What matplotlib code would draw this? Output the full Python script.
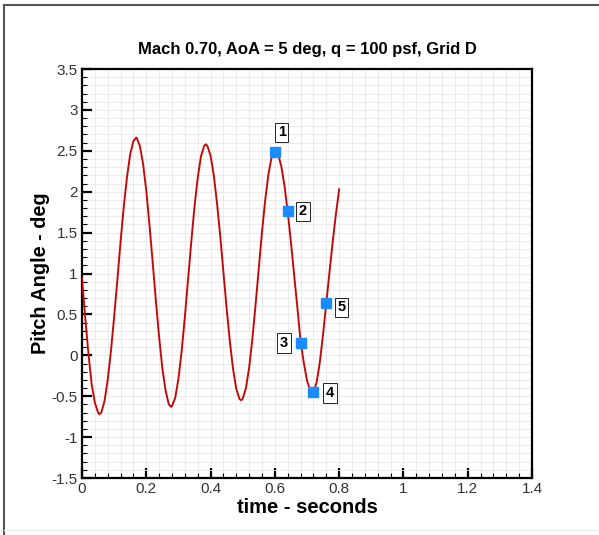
import numpy as np
import matplotlib.pyplot as plt
from matplotlib.ticker import MultipleLocator
from matplotlib.lines import Line2D

plt.rcParams['font.family'] = ['Liberation Sans', 'DejaVu Sans']

# pitch angle history
time = [0.00, 0.01, 0.02, 0.03, 0.04, 0.05, 0.054, 0.06, 0.07, 0.08, 0.09,
        0.10, 0.11, 0.12, 0.13, 0.14, 0.15, 0.16, 0.168, 0.17, 0.18, 0.19,
        0.20, 0.21, 0.22, 0.23, 0.24, 0.25, 0.26, 0.27, 0.277, 0.28, 0.29,
        0.30, 0.31, 0.32, 0.33, 0.34, 0.35, 0.36, 0.37, 0.38, 0.385, 0.39,
        0.40, 0.41, 0.42, 0.43, 0.44, 0.45, 0.46, 0.47, 0.48, 0.49, 0.495,
        0.50, 0.51, 0.52, 0.53, 0.54, 0.55, 0.56, 0.57, 0.58, 0.59, 0.60,
        0.61, 0.62, 0.63, 0.64, 0.65, 0.66, 0.67, 0.68, 0.69, 0.70, 0.71,
        0.716, 0.72, 0.73, 0.74, 0.75, 0.76, 0.77, 0.78, 0.79, 0.80]
pitch = [0.94, 0.46, 0.02, -0.35, -0.58, -0.70, -0.72, -0.70, -0.56, -0.30, 0.05,
         0.47, 0.92, 1.39, 1.82, 2.18, 2.46, 2.62, 2.66, 2.66, 2.56, 2.34,
         2.01, 1.59, 1.13, 0.66, 0.22, -0.16, -0.43, -0.60, -0.63, -0.62, -0.52,
         -0.285, 0.05, 0.47, 0.93, 1.39, 1.82, 2.17, 2.43, 2.56, 2.58, 2.56,
         2.44, 2.20, 1.86, 1.46, 1.015, 0.57, 0.17, -0.17, -0.41, -0.535, -0.55,
         -0.53, -0.40, -0.15, 0.20, 0.62, 1.065, 1.51, 1.90, 2.215, 2.425, 2.50,
         2.46, 2.31, 2.07, 1.75, 1.38, 0.98, 0.585, 0.17, -0.09, -0.31, -0.43,
         -0.46, -0.45, -0.33, -0.08, 0.26, 0.64, 1.02, 1.39, 1.73, 2.03]

# marked instants
mark_t = [0.60, 0.64, 0.68, 0.72, 0.76]
mark_y = [2.49, 1.76, 0.15, -0.445, 0.64]
mark_lbl = ['1', '2', '3', '4', '5']
lbl_off = [(5, 14), (11, 0), (-12, 0), (12, -1), (11, -3)]

x_ticks = [0, 0.2, 0.4, 0.6, 0.8, 1, 1.2, 1.4]
x_tick_lbl = ['0', '0.2', '0.4', '0.6', '0.8', '1', '1.2', '1.4']
y_ticks = [-1.5, -1, -0.5, 0, 0.5, 1, 1.5, 2, 2.5, 3, 3.5]
y_tick_lbl = ['-1.5', '-1', '-0.5', '0', '0.5', '1', '1.5', '2', '2.5', '3', '3.5']

fig = plt.figure(figsize=(5.99, 5.35), dpi=100)
ax = fig.add_axes([0.1369, 0.1065, 0.7513, 0.7645])

ax.plot(time, pitch, color='#d01010', lw=1.4, zorder=3)
ax.plot(time, pitch, color='#7a0000', lw=0.4, alpha=0.5, zorder=3)
ax.plot(mark_t, mark_y, 's', color='#1a8cff', ms=7.8, mec='#1a8cff', zorder=4)

for t, y, s, off in zip(mark_t, mark_y, mark_lbl, lbl_off):
    ax.annotate(s, (t, y), xytext=off, textcoords='offset points',
                ha='center', va='center', fontsize=10.5, fontweight='bold',
                bbox=dict(boxstyle='square,pad=0.18', fc='white', ec='#222222', lw=0.7),
                zorder=5)

ax.set_xlim(0, 1.4)
ax.set_ylim(-1.5, 3.5)
ax.set_xticks(x_ticks)
ax.set_xticklabels(x_tick_lbl)
ax.set_yticks(y_ticks)
ax.set_yticklabels(y_tick_lbl)
ax.xaxis.set_minor_locator(MultipleLocator(0.04))
ax.yaxis.set_minor_locator(MultipleLocator(0.1))
ax.grid(which='both', color='#e8e8e8', lw=0.6)
ax.set_axisbelow(True)
ax.tick_params(which='major', direction='in', length=7, width=1.6, labelsize=11,
               labelcolor='#333333', top=False, right=False, pad=3)
ax.tick_params(which='minor', direction='in', length=3.5, width=0.8, top=False, right=False)
for sp in ax.spines.values():
    sp.set_linewidth(1.6)

ax.set_title('Mach 0.70, AoA = 5 deg, q = 100 psf, Grid D', fontsize=12,
             fontweight='bold', pad=11)
ax.set_xlabel('time - seconds', fontsize=14.5, fontweight='bold', labelpad=1)
ax.set_ylabel('Pitch Angle - deg', fontsize=14.3, fontweight='bold', labelpad=1)

# page frame
fig.add_artist(Line2D([4 / 599, 4 / 599], [0, 1 - 5 / 535], color='#555555', lw=1.5))
fig.add_artist(Line2D([4 / 599, 1], [1 - 5 / 535, 1 - 5 / 535], color='#555555', lw=1.5))
fig.add_artist(Line2D([4 / 599, 1], [5 / 535, 5 / 535], color='#eeeeee', lw=1))

fig.savefig('out.png', dpi=100)
